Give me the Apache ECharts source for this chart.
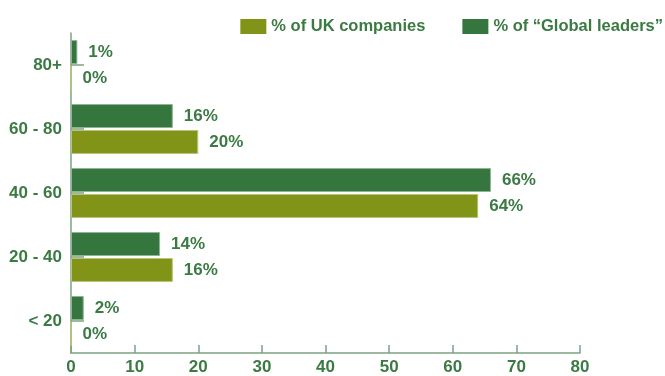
<!DOCTYPE html>
<html>
<head>
<meta charset="utf-8">
<script src="https://cdn.jsdelivr.net/npm/echarts@6/dist/echarts.min.js"></script>
<style>
  html, body { margin: 0; padding: 0; background: #fff; }
  #chart { width: 665px; height: 376px; }
</style>
</head>
<body>
<div id="chart"></div>
<script>
// Company age bands (bottom to top)
var categories = ['< 20', '20 - 40', '40 - 60', '60 - 80', '80+'];
var ukCompanies = [0, 16, 64, 20, 0];
var globalLeaders = [2, 14, 66, 16, 1];
var xTicks = [0, 10, 20, 30, 40, 50, 60, 70, 80];

var textGreen = '#3b7a43';
var axisGreen = '#7fa283';
var fontFamily = '"Liberation Sans", Arial, sans-serif';

var chart = echarts.init(document.getElementById('chart'), null, { renderer: 'canvas' });

var labelStyle = {
  show: true,
  position: 'right',
  distance: 11,
  formatter: '{c}%',
  color: textGreen,
  fontWeight: 'bold',
  fontSize: 17,
  fontFamily: fontFamily
};

var ukName = '% of UK companies';
var globalName = '% of \u201cGlobal leaders\u201d';

chart.setOption({
  animation: false,
  grid: { left: 71, right: 85, top: 33, bottom: 23 },
  legend: {
    data: [ukName, globalName],
    top: 13,
    right: -3,
    itemWidth: 26,
    itemHeight: 15,
    itemGap: 37,
    icon: 'rect',
    itemStyle: { borderWidth: 0 },
    textStyle: { color: textGreen, fontWeight: 'bold', fontSize: 16.5, fontFamily: fontFamily }
  },
  xAxis: {
    type: 'value',
    min: xTicks[0],
    max: xTicks[xTicks.length - 1],
    interval: 10,
    splitLine: { show: false },
    axisLine: { show: true, lineStyle: { color: axisGreen, width: 1.5 } },
    axisTick: { show: true, inside: true, length: 8, lineStyle: { color: axisGreen, width: 1.5 } },
    axisLabel: { color: textGreen, fontWeight: 'bold', fontSize: 17, fontFamily: fontFamily, margin: 6 }
  },
  yAxis: {
    type: 'category',
    data: categories,
    axisLine: { show: true, lineStyle: { color: axisGreen, width: 1.5 } },
    axisTick: { show: true, inside: true, alignWithLabel: true, length: 13, lineStyle: { color: axisGreen, width: 1.5 } },
    axisLabel: { color: textGreen, fontWeight: 'bold', fontSize: 17, fontFamily: fontFamily, margin: 9 }
  },
  series: [
    {
      name: globalName,
      type: 'bar',
      data: globalLeaders,
      barWidth: 24,
      barGap: '8%',
      itemStyle: { color: '#35763e', borderColor: '#8fb296', borderWidth: 1 },
      label: labelStyle
    },
    {
      name: ukName,
      type: 'bar',
      data: ukCompanies,
      barWidth: 24,
      barGap: '8%',
      itemStyle: { color: '#829417', borderColor: '#b7c47a', borderWidth: 1 },
      label: labelStyle
    }
  ]
});
</script>
</body>
</html>
